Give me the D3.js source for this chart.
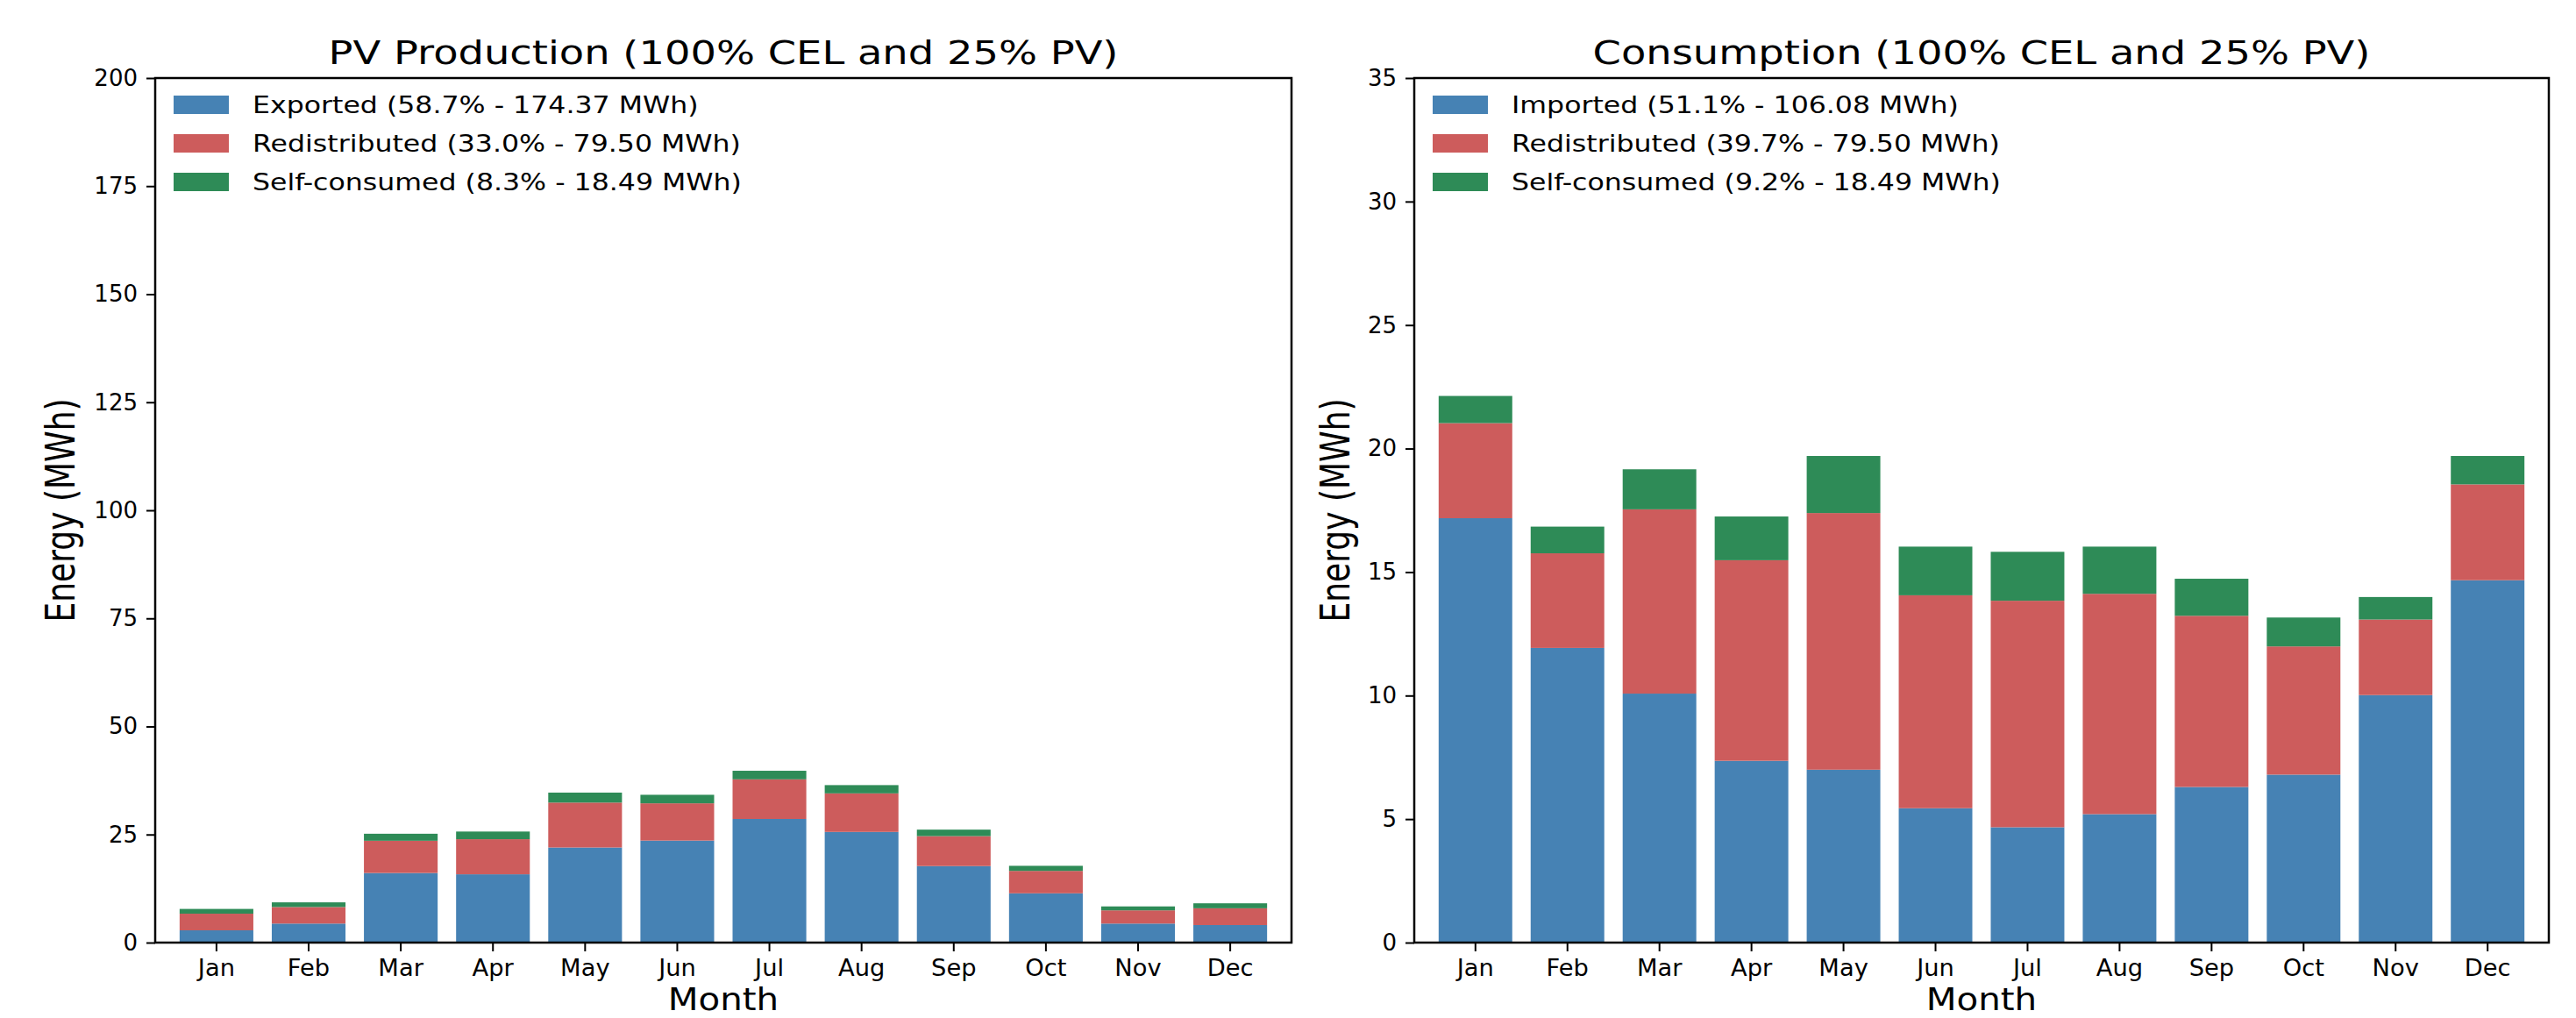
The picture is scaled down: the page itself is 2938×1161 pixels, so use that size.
<!DOCTYPE html>
<html>
<head>
<meta charset="utf-8">
<script src="https://cdn.jsdelivr.net/npm/d3@7"></script>
<style>
  body { margin: 0; background: #fff; }
  text { font-family: "DejaVu Sans", sans-serif; fill: #000; }
</style>
</head>
<body>
<div id="chart"></div>
<script>
// data (MWh per month)
const months = ["Jan", "Feb", "Mar", "Apr", "May", "Jun", "Jul", "Aug", "Sep", "Oct", "Nov", "Dec"];
const exported = [2.84, 4.4, 16.1, 15.8, 22.0, 23.6, 28.6, 25.6, 17.7, 11.4, 4.4, 4.06];
const imported = [17.18, 11.93, 10.08, 7.36, 7.0, 5.44, 4.67, 5.2, 6.3, 6.8, 10.02, 14.67];
const redistributed = [3.85, 3.83, 7.46, 8.12, 10.39, 8.62, 9.17, 8.92, 6.93, 5.19, 3.06, 3.88];
const selfConsumed = [1.10, 1.08, 1.62, 1.77, 2.31, 1.97, 1.98, 1.91, 1.50, 1.17, 0.91, 1.15];

const pvTicks = [0, 25, 50, 75, 100, 125, 150, 175, 200];
const consTicks = [0, 5, 10, 15, 20, 25, 30, 35];

const pvLabels = ["Exported (58.7% - 174.37 MWh)", "Redistributed (33.0% - 79.50 MWh)", "Self-consumed (8.3% - 18.49 MWh)"];
const consLabels = ["Imported (51.1% - 106.08 MWh)", "Redistributed (39.7% - 79.50 MWh)", "Self-consumed (9.2% - 18.49 MWh)"];

const colors = ["#4682b4", "#cd5c5c", "#2e8b57"];

const W = 2938, H = 1161;
const plotTop = 89, plotBottom = 1075;

const svg = d3.select("#chart")
    .append("svg")
    .attr("width", W)
    .attr("height", H);

function drawPanel(x0, x1, title, first, labels, yMax, ticks, ylabelX) {
    const x = d3.scaleBand()
        .domain(months)
        .range([x0, x1])
        .paddingInner(0.2)
        .paddingOuter(0.265);
    const y = d3.scaleLinear()
        .domain([0, yMax])
        .range([plotBottom, plotTop]);

    const rows = months.map((m, i) => ({month: m, a: first[i], b: redistributed[i], c: selfConsumed[i]}));
    const series = d3.stack().keys(["a", "b", "c"])(rows);

    // bars
    svg.append("g")
        .selectAll("g")
        .data(series)
        .join("g")
        .attr("fill", (d, i) => colors[i])
        .selectAll("rect")
        .data(d => d)
        .join("rect")
        .attr("x", d => x(d.data.month))
        .attr("width", x.bandwidth())
        .attr("y", d => y(d[1]))
        .attr("height", d => y(d[0]) - y(d[1]));

    // axes
    const ax = svg.append("g")
        .attr("transform", `translate(0,${plotBottom})`)
        .call(d3.axisBottom(x).tickSize(10).tickPadding(10));
    const ay = svg.append("g")
        .attr("transform", `translate(${x0},0)`)
        .call(d3.axisLeft(y).tickValues(ticks).tickFormat(d3.format("d")).tickSize(10).tickPadding(10));
    [ax, ay].forEach(g => {
        g.select(".domain").remove();
        g.selectAll("line").attr("stroke", "#000").attr("stroke-width", 2);
        g.selectAll("text").attr("font-size", 26).attr("fill", "#000");
    });
    ax.selectAll("text").attr("data-stretch", 1.05);

    // frame
    svg.append("rect")
        .attr("x", x0).attr("y", plotTop)
        .attr("width", x1 - x0).attr("height", plotBottom - plotTop)
        .attr("fill", "none")
        .attr("stroke", "#000")
        .attr("stroke-width", 2.5);

    // title and labels
    svg.append("text")
        .attr("data-stretch", 1.22)
        .attr("x", (x0 + x1) / 2).attr("y", 73)
        .attr("text-anchor", "middle")
        .attr("font-size", 38)
        .text(title);
    svg.append("text")
        .attr("data-stretch", 1.12)
        .attr("x", (x0 + x1) / 2).attr("y", 1152)
        .attr("text-anchor", "middle")
        .attr("font-size", 36)
        .text("Month");
    svg.append("text")
        .attr("transform", `translate(${ylabelX},${(plotTop + plotBottom) / 2}) scale(1.3,1) rotate(-90)`)
        .attr("text-anchor", "middle")
        .attr("font-size", 36)
        .text("Energy (MWh)");

    // legend
    const lg = svg.append("g")
        .selectAll("g")
        .data(labels)
        .join("g")
        .attr("transform", (d, i) => `translate(${x0 + 21},${109 + i * 44})`);
    lg.append("rect")
        .attr("width", 63).attr("height", 21)
        .attr("fill", (d, i) => colors[i]);
    lg.append("text")
        .attr("data-stretch", 1.17)
        .attr("x", 90).attr("y", 10.5)
        .attr("dy", "0.36em")
        .attr("font-size", 27)
        .text(d => d);
}

drawPanel(177, 1473, "PV Production (100% CEL and 25% PV)", exported, pvLabels, 200, pvTicks, 85);
drawPanel(1613, 2907, "Consumption (100% CEL and 25% PV)", imported, consLabels, 35, consTicks, 1539);

// the reference text is drawn a bit wide, so stretch it horizontally
svg.selectAll("text[data-stretch]").each(function () {
    const k = +this.getAttribute("data-stretch");
    const len = this.getComputedTextLength();
    d3.select(this).attr("textLength", len * k).attr("lengthAdjust", "spacingAndGlyphs");
});
</script>
</body>
</html>
